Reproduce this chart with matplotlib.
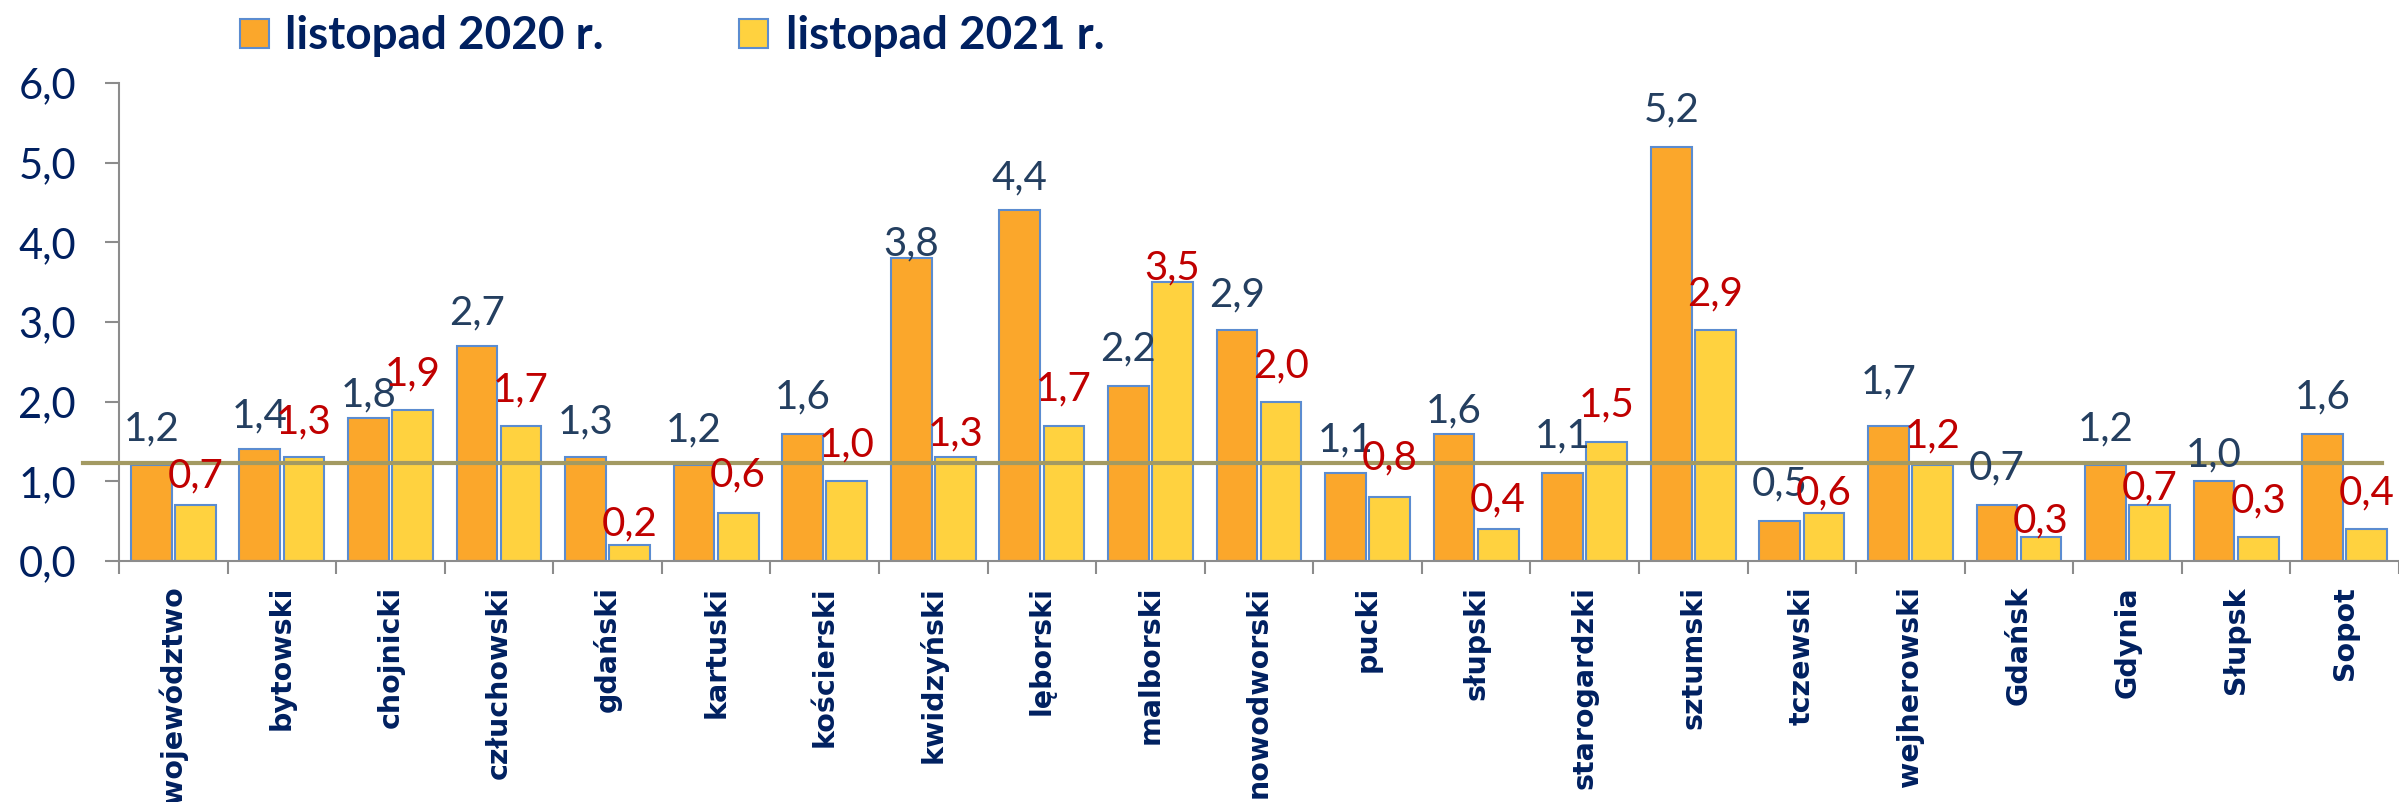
import matplotlib
matplotlib.use("Agg")
import matplotlib.pyplot as plt
from matplotlib.patches import Rectangle
import numpy as np

# ---- data ----
categories = ["województwo", "bytowski", "chojnicki", "człuchowski", "gdański",
              "kartuski", "kościerski", "kwidzyński", "lęborski", "malborski",
              "nowodworski", "pucki", "słupski", "starogardzki", "sztumski",
              "tczewski", "wejherowski", "Gdańsk", "Gdynia", "Słupsk", "Sopot"]
values_2020 = [1.2, 1.4, 1.8, 2.7, 1.3, 1.2, 1.6, 3.8, 4.4, 2.2, 2.9,
               1.1, 1.6, 1.1, 5.2, 0.5, 1.7, 0.7, 1.2, 1.0, 1.6]
values_2021 = [0.7, 1.3, 1.9, 1.7, 0.2, 0.6, 1.0, 1.3, 1.7, 3.5, 2.0,
               0.8, 0.4, 1.5, 2.9, 0.6, 1.2, 0.3, 0.7, 0.3, 0.4]
series_names = ["listopad 2020 r.", "listopad 2021 r."]
reference_level = 1.23
yticks = [0, 1, 2, 3, 4, 5, 6]

# ---- style (label placement: distance of label centre above bar top, px) ----
lab_off_2020 = [39.7, 36, 26, 36, 38, 38, 39.3, 17.3, 35.7, 39.3, 38.3,
                36.7, 26, 40, 40, 40, 47, 40, 39, 29, 40]
lab_off_2021 = [32.6, 38.6, 39, 39, 24, 41.6, 39.3, 26, 40, 16.7, 39,
                42.3, 31.7, 39.3, 39, 23.3, 32, 19, 20, 39, 39]

C_ORANGE = "#FBA72B"
C_YELLOW = "#FFD23F"
C_EDGE = "#5B8CD0"
C_NAVY = "#002060"
C_LAB20 = "#243F60"
C_LAB21 = "#C00000"
C_LINE = "#A39A62"
C_AXIS = "#8C8C8C"

W, H, DPI = 2399, 802, 100
fig = plt.figure(figsize=(W / DPI, H / DPI), dpi=DPI)
ax = fig.add_axes([119 / W, 1 - 561 / H, (W - 119) / W, (561 - 83) / H])

x = np.arange(len(categories))
bw = 0.375
off = 0.203
b1 = ax.bar(x - off, values_2020, bw, color=C_ORANGE, edgecolor=C_EDGE, linewidth=1.5, zorder=2)
b2 = ax.bar(x + off, values_2021, bw, color=C_YELLOW, edgecolor=C_EDGE, linewidth=1.5, zorder=2)

ax.set_xlim(-0.5, len(categories) - 0.5)
ax.set_ylim(0, 6)

# reference line (extends slightly left of the axis)
ax.axhline(reference_level, xmin=(83 - 119) / (W - 119), xmax=(2382 - 119) / (W - 119),
           color=C_LINE, linewidth=3, zorder=3, clip_on=False)

# data labels
lab_font = dict(family=["Lato", "DejaVu Sans"], size=29)
cap_half = 14.5
for i in range(len(categories)):
    ax.annotate(f"{values_2020[i]:.1f}".replace(".", ","), (x[i] - off, values_2020[i]),
                xytext=(0, (lab_off_2020[i] - cap_half) * 72 / DPI), textcoords="offset points",
                ha="center", va="baseline", color=C_LAB20, zorder=4, **lab_font)
    ax.annotate(f"{values_2021[i]:.1f}".replace(".", ","), (x[i] + off, values_2021[i]),
                xytext=(0, (lab_off_2021[i] - cap_half) * 72 / DPI), textcoords="offset points",
                ha="center", va="baseline", color=C_LAB21, zorder=4, **lab_font)

# spines
for s in ["top", "right"]:
    ax.spines[s].set_visible(False)
for s in ["left", "bottom"]:
    ax.spines[s].set_color(C_AXIS)
    ax.spines[s].set_linewidth(1.5)

# y axis
ax.set_yticks(yticks)
ax.set_yticklabels([f"{v:.1f}".replace(".", ",") for v in yticks],
                   family=["Lato", "DejaVu Sans"], fontsize=30, color=C_NAVY)
ax.tick_params(axis="y", direction="out", length=10, width=1.5, color=C_AXIS, pad=21)

# x axis: labels at centres, tick marks at boundaries
ax.set_xticks(x)
ax.set_xticklabels(categories, rotation=90, family="DejaVu Sans", fontweight="bold",
                   fontsize=20.5, color=C_NAVY, va="top", ha="center")
ax.tick_params(axis="x", which="major", length=0, pad=18)
ax.set_xticks(np.arange(-0.5, len(categories) + 0.5, 1), minor=True)
ax.tick_params(axis="x", which="minor", direction="out", length=9, width=1.5, color=C_AXIS)

# legend (manual)
leg_font = dict(family=["Lato", "DejaVu Sans"], size=33, fontweight="bold", color=C_NAVY)
for (mx0, tx0), col, name in zip([(240, 285), (739, 786)], [C_ORANGE, C_YELLOW], series_names):
    fig.add_artist(Rectangle((mx0 / W, 1 - 48 / H), 29 / W, 29 / H, transform=fig.transFigure,
                             facecolor=col, edgecolor=C_EDGE, linewidth=1.5))
    fig.text(tx0 / W, 1 - 49.3 / H, name, ha="left", va="baseline", **leg_font)

fig.savefig("out.png", dpi=DPI)
